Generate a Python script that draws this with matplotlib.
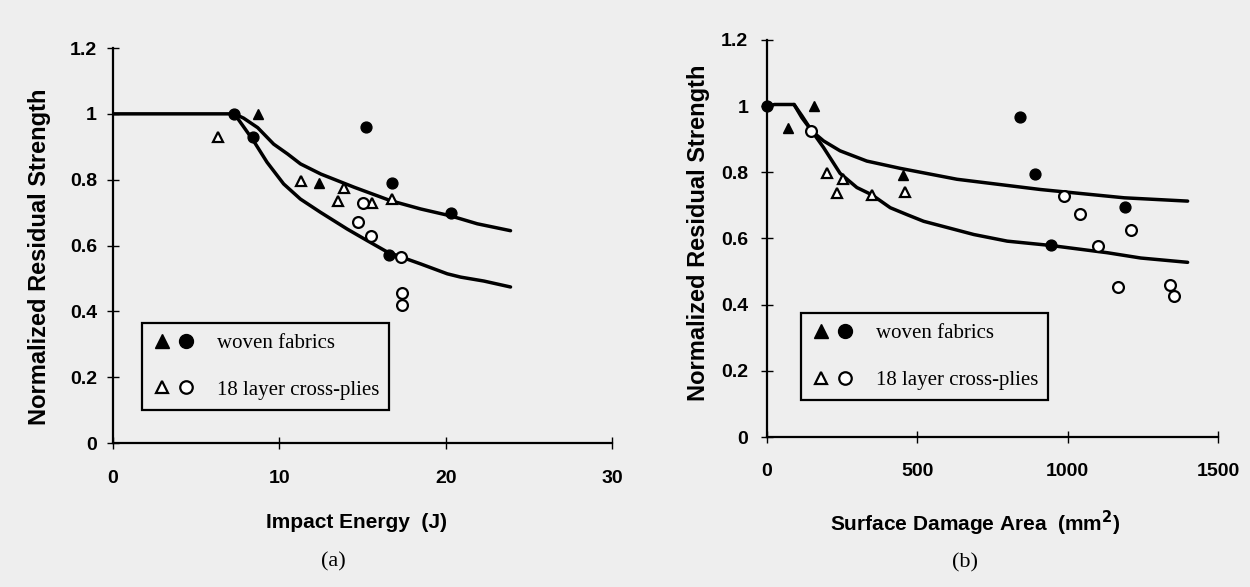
import matplotlib
matplotlib.use("Agg")
import matplotlib.pyplot as plt
from matplotlib.lines import Line2D
from matplotlib.legend_handler import HandlerTuple

# ---------------- data: panel (a) ----------------
a_upper_x = [0, 7.3, 7.85, 8.7, 9.66, 10.5, 11.27, 12.5, 14.5, 16.7, 18.5, 20.3, 21.9, 23.9]
a_upper_y = [1.0, 1.0, 0.987, 0.958, 0.908, 0.878, 0.848, 0.817, 0.777, 0.736, 0.711, 0.69, 0.666, 0.645]
a_lower_x = [7.3, 8.45, 9.26, 10.26, 11.27, 12.47, 14.08, 15.28, 16.5, 18.5, 20.1, 20.9, 22.3, 23.9]
a_lower_y = [1.0, 0.918, 0.853, 0.787, 0.741, 0.701, 0.65, 0.615, 0.58, 0.544, 0.514, 0.504, 0.492, 0.474]

a_woven_tri_x = [8.7, 12.4]
a_woven_tri_y = [1.0, 0.79]
a_woven_cir_x = [7.3, 8.4, 15.2, 16.8, 20.3, 16.6]
a_woven_cir_y = [1.0, 0.93, 0.96, 0.79, 0.70, 0.57]
a_cross_tri_x = [6.3, 11.3, 13.9, 13.5, 15.6, 16.8]
a_cross_tri_y = [0.93, 0.795, 0.775, 0.735, 0.73, 0.74]
a_cross_cir_x = [15.0, 14.7, 15.5, 17.3, 17.4, 17.4]
a_cross_cir_y = [0.73, 0.67, 0.63, 0.565, 0.455, 0.42]

# ---------------- data: panel (b) ----------------
b_upper_x = [0, 25, 90, 116, 149, 188, 243, 332, 443, 632, 910, 1188, 1399]
b_upper_y = [1.0, 1.005, 1.005, 0.971, 0.925, 0.895, 0.865, 0.834, 0.812, 0.779, 0.748, 0.723, 0.713]
b_lower_x = [90, 116, 149, 188, 243, 299, 349, 410, 466, 521, 688, 799, 943, 1132, 1243, 1399]
b_lower_y = [1.005, 0.965, 0.925, 0.875, 0.797, 0.754, 0.732, 0.693, 0.672, 0.652, 0.612, 0.592, 0.579, 0.557, 0.541, 0.528]

b_woven_tri_x = [71, 157, 451]
b_woven_tri_y = [0.933, 1.0, 0.792]
b_woven_cir_x = [0, 843, 891, 1191, 946]
b_woven_cir_y = [1.0, 0.966, 0.796, 0.695, 0.579]
b_cross_tri_x = [201, 252, 232, 349, 458]
b_cross_tri_y = [0.797, 0.779, 0.736, 0.731, 0.741]
b_cross_cir_x = [148, 988, 1040, 1212, 1101, 1169, 1341, 1352]
b_cross_cir_y = [0.925, 0.728, 0.673, 0.627, 0.577, 0.452, 0.458, 0.425]

a_xticks = [0, 10, 20, 30]
b_xticks = [0, 500, 1000, 1500]
yticks = [0, 0.2, 0.4, 0.6, 0.8, 1.0, 1.2]
ytick_labels = ["0", "0.2", "0.4", "0.6", "0.8", "1", "1.2"]
legend_labels = ["woven fabrics", "18 layer cross-plies"]

BG = "#eeeeee"
SANS = ["Liberation Sans", "DejaVu Sans"]
SERIF = ["Liberation Serif", "DejaVu Serif"]

fig = plt.figure(figsize=(12.5, 5.87), dpi=100, facecolor=BG)
ax_a = fig.add_axes([0.0904, 0.2453, 0.3992, 0.6729])
ax_b = fig.add_axes([0.6136, 0.2555, 0.3608, 0.6764])


def style_axes(ax, xmax, xticks, xpad, ypad):
    ax.set_facecolor(BG)
    ax.set_xlim(0, xmax)
    ax.set_ylim(0, 1.2)
    for s in ("top", "right"):
        ax.spines[s].set_visible(False)
    for s in ("left", "bottom"):
        ax.spines[s].set_linewidth(1.6)
    ax.set_xticks(xticks)
    ax.set_xticklabels([str(t) for t in xticks])
    ax.set_yticks(yticks)
    ax.set_yticklabels(ytick_labels)
    ax.tick_params(axis="both", direction="inout", length=9, width=1.0,
                   labelsize=14)
    ax.tick_params(axis="x", pad=xpad)
    ax.tick_params(axis="y", pad=ypad)
    for lab in ax.get_xticklabels() + ax.get_yticklabels():
        lab.set_family(SANS)
        lab.set_weight("bold")


def draw(ax, ux, uy, lx, ly, wtx, wty, wcx, wcy, ctx, cty, ccx, ccy):
    ax.plot(ux, uy, color="black", lw=2.5, solid_capstyle="round",
            solid_joinstyle="round", zorder=2)
    ax.plot(lx, ly, color="black", lw=2.5, solid_capstyle="round",
            solid_joinstyle="round", zorder=2)
    ms = 7.8
    ax.plot(wtx, wty, ls="none", marker="^", ms=ms, mfc="black", mec="black", clip_on=False, zorder=3)
    ax.plot(wcx, wcy, ls="none", marker="o", ms=ms, mfc="black", mec="black", clip_on=False, zorder=3)
    ax.plot(ctx, cty, ls="none", marker="^", ms=ms, mfc="white", mec="black", mew=1.6, clip_on=False, zorder=3)
    ax.plot(ccx, ccy, ls="none", marker="o", ms=ms, mfc="white", mec="black", mew=1.6, clip_on=False, zorder=3)


def add_legend(ax, anchor):
    ms = 10
    h1 = (Line2D([], [], ls="none", marker="^", ms=ms, mfc="black", mec="black"),
          Line2D([], [], ls="none", marker="o", ms=ms, mfc="black", mec="black"))
    h2 = (Line2D([], [], ls="none", marker="^", ms=ms - 1, mfc="white", mec="black", mew=1.6),
          Line2D([], [], ls="none", marker="o", ms=ms - 1, mfc="white", mec="black", mew=1.6))
    leg = ax.legend([h1, h2], legend_labels,
                    handler_map={tuple: HandlerTuple(ndivide=None, pad=0.25)},
                    loc="upper left", bbox_to_anchor=anchor,
                    prop={"family": SERIF, "size": 15},
                    handlelength=2.1, handletextpad=1.0, labelspacing=1.3,
                    borderpad=0.5, borderaxespad=0.0,
                    fancybox=False, framealpha=1.0, facecolor=BG,
                    edgecolor="black")
    leg.get_frame().set_linewidth(1.6)


style_axes(ax_a, 30, a_xticks, 15, 7)
draw(ax_a, a_upper_x, a_upper_y, a_lower_x, a_lower_y,
     a_woven_tri_x, a_woven_tri_y, a_woven_cir_x, a_woven_cir_y,
     a_cross_tri_x, a_cross_tri_y, a_cross_cir_x, a_cross_cir_y)
add_legend(ax_a, (0.0575, 0.304))

style_axes(ax_b, 1500, b_xticks, 14, 9)
draw(ax_b, b_upper_x, b_upper_y, b_lower_x, b_lower_y,
     b_woven_tri_x, b_woven_tri_y, b_woven_cir_x, b_woven_cir_y,
     b_cross_tri_x, b_cross_tri_y, b_cross_cir_x, b_cross_cir_y)
add_legend(ax_b, (0.0747, 0.312))

# axis labels (placed in figure pixels for accuracy)
W, H = 1250.0, 587.0
fig.text(40 / W, 1 - 257 / H, "Normalized Residual Strength", rotation=90,
         ha="center", va="center", family=SANS, weight="bold", fontsize=17)
fig.text(698 / W, 1 - 233 / H, "Normalized Residual Strength", rotation=90,
         ha="center", va="center", family=SANS, weight="bold", fontsize=17)
fig.text(357 / W, 1 - 522 / H, "Impact Energy  (J)", ha="center", va="center",
         family=SANS, weight="bold", fontsize=15)
fig.text(975 / W, 1 - 523 / H, r"Surface Damage Area  (mm$^{\mathbf{2}}$)", ha="center",
         va="center", family=SANS, weight="bold", fontsize=15)
fig.text(333 / W, 1 - 562 / H, "(a)", ha="center", va="center",
         family=SERIF, fontsize=16)
fig.text(965 / W, 1 - 563 / H, "(b)", ha="center", va="center",
         family=SERIF, fontsize=16)

fig.savefig("out.png", dpi=100, facecolor=BG)
